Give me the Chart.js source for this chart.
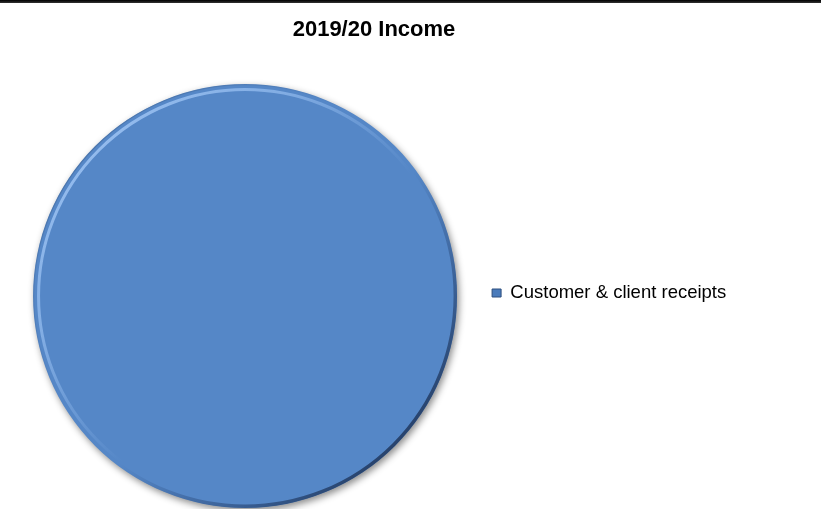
<!DOCTYPE html>
<html>
<head>
<meta charset="utf-8">
<script src="https://cdn.jsdelivr.net/npm/chart.js@4/dist/chart.umd.min.js"></script>
<style>
	html, body { margin: 0; padding: 0; background: #fff; }
	#wrap { position: relative; width: 821px; height: 509px; }
	#topRule { position: absolute; left: 0; top: 0; width: 821px; height: 3px; background: linear-gradient(#000, #333); }
</style>
</head>
<body>
<div id="wrap">
	<canvas id="incomeChart" width="821" height="509"></canvas>
	<div id="topRule"></div>
</div>
<script>
const chartTitle = "2019/20 Income";
const categories = ["Customer & client receipts"];
const incomeValues = [100];
const sliceColors = ["#5587c7"];

// soft drop shadow under the pie plus a light/dark bevel on the rim
const bevelPlugin = {
	id: 'bevel',
	beforeDatasetsDraw(chart) {
		const ctx = chart.ctx;
		ctx.save();
		ctx.shadowColor = 'rgba(0,0,0,0.45)';
		ctx.shadowBlur = 7;
		ctx.shadowOffsetX = 2;
		ctx.shadowOffsetY = 3;
	},
	afterDatasetsDraw(chart) {
		const ctx = chart.ctx;
		ctx.restore();
		const arc = chart.getDatasetMeta(0).data[0];
		if (!arc) return;
		const r = arc.outerRadius;
		const cx = arc.x, cy = arc.y;

		ctx.save();
		ctx.beginPath();
		ctx.arc(cx, cy, r, 0, Math.PI * 2);
		ctx.clip();

		// dark rim, strongest at bottom-right
		let g = ctx.createLinearGradient(cx - r, cy - r, cx + r, cy + r);
		g.addColorStop(0, 'rgba(30,60,110,0.0)');
		g.addColorStop(0.55, 'rgba(30,60,110,0.0)');
		g.addColorStop(0.85, 'rgba(25,45,80,0.75)');
		g.addColorStop(1, 'rgba(20,35,60,0.95)');
		ctx.strokeStyle = g;
		ctx.lineWidth = 4;
		ctx.beginPath();
		ctx.arc(cx, cy, r - 1.5, 0, Math.PI * 2);
		ctx.stroke();

		// light highlight ring, strongest at top-left
		g = ctx.createLinearGradient(cx - r, cy - r, cx + r, cy + r);
		g.addColorStop(0, 'rgba(170,205,250,0.95)');
		g.addColorStop(0.3, 'rgba(150,190,240,0.7)');
		g.addColorStop(0.55, 'rgba(150,190,240,0.0)');
		g.addColorStop(1, 'rgba(150,190,240,0.0)');
		ctx.strokeStyle = g;
		ctx.lineWidth = 3;
		ctx.beginPath();
		ctx.arc(cx, cy, r - 5.5, 0, Math.PI * 2);
		ctx.stroke();

		// thin dark outer edge at top-left
		g = ctx.createLinearGradient(cx - r, cy - r, cx + r, cy + r);
		g.addColorStop(0, 'rgba(60,90,130,0.6)');
		g.addColorStop(0.4, 'rgba(60,90,130,0.0)');
		g.addColorStop(1, 'rgba(60,90,130,0.0)');
		ctx.strokeStyle = g;
		ctx.lineWidth = 1.5;
		ctx.beginPath();
		ctx.arc(cx, cy, r - 0.5, 0, Math.PI * 2);
		ctx.stroke();
		ctx.restore();
	}
};

const incomeChart = new Chart(document.getElementById("incomeChart"), {
	type: 'pie',
	data: {
		labels: categories,
		datasets: [{
			data: incomeValues,
			backgroundColor: sliceColors,
			borderWidth: 0,
			hoverOffset: 0,
		}]
	},
	options: {
		responsive: false,
		animation: false,
		events: [],
		layout: {
			padding: { left: 11.75, right: 84.75, top: 0, bottom: 1 }
		},
		plugins: {
			title: {
				display: true,
				text: chartTitle,
				color: '#000',
				font: { family: 'Liberation Sans, Arial, sans-serif', size: 22, weight: 'bold' },
				padding: { top: 17, bottom: 40.6 }
			},
			legend: {
				position: 'right',
				fullSize: false,
				// empty title with negative padding nudges the entry up a little
				title: {
					display: true,
					text: '',
					font: { size: 1 },
					padding: { top: -7.2, bottom: 0 }
				},
				labels: {
					color: '#000',
					font: { family: 'Liberation Sans, Arial, sans-serif', size: 18.5 },
					boxWidth: 9,
					boxHeight: 8,
					padding: 13.75,
					generateLabels(chart) {
						const items = Chart.overrides.pie.plugins.legend.labels.generateLabels(chart);
						items.forEach(item => {
							item.fillStyle = '#4a7bbb';
							item.strokeStyle = '#2d4f7f';
							item.lineWidth = 1;
						});
						return items;
					}
				}
			},
			tooltip: { enabled: false }
		}
	},
	plugins: [bevelPlugin]
});
</script>
</body>
</html>
